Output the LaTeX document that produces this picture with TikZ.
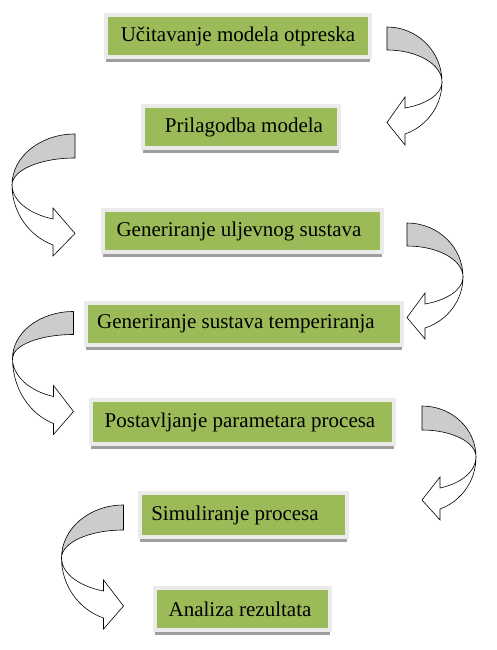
\documentclass[tikz,border=0pt]{standalone}
\usepackage{fontspec}
\setmainfont{Liberation Serif}
\usetikzlibrary{shadows}
\definecolor{boxgreen}{HTML}{9BBB59}
\definecolor{framegray}{HTML}{EBEBEB}
\definecolor{backgray}{HTML}{CCCCCC}
\tikzset{
  stepbox/.style={rectangle, fill=boxgreen, draw=framegray, line width=4pt,
    inner sep=0pt, font=\fontsize{21}{24}\selectfont, text=black,
    drop shadow={shadow xshift=0pt, shadow yshift=-5pt, fill=black!38, opacity=1}},
  ribbonback/.style={fill=backgray, draw=black, line width=0.6pt, line join=round},
  ribbonfront/.style={fill=white, draw=black, line width=0.6pt, line join=miter}
}
% #1 x0, #2 y0, #3 side, #4 R, #5 h, #6 t, #7 b, #8 notch1, #9 notch2
\newcommand{\ribbonarrow}[9]{%
  \begin{scope}[shift={(#1,#2)}, xscale=#3]
    \pgfmathsetmacro\rbth{acos(#7/#4)}
    \pgfmathsetmacro\rbsin{sin(\rbth)}
    \pgfmathsetmacro\rbhi{(#8-#5)/\rbsin}
    \pgfmathsetmacro\rbho{(#9-#5)/\rbsin}
    \pgfmathsetmacro\rbhin{#5-#6}
    \pgfmathsetmacro\rbtip{(#8+#9)/2+1.5}
    \pgfmathsetmacro\rbbu{#8-11}
    \pgfmathsetmacro\rbbl{#9+11}
    \draw[ribbonback] (0,0) arc[start angle=-90, end angle=0, x radius=#4, y radius=#5]
      arc[start angle=0, end angle=-90, x radius=#4, y radius=\rbhin] -- cycle;
    \draw[ribbonfront] (#4,#5) arc[start angle=0, end angle=\rbth, x radius=#4, y radius=\rbhi]
      -- (#7,\rbbu) -- (0,\rbtip) -- (#7,\rbbl) -- (#7,#9)
      arc[start angle=\rbth, end angle=0, x radius=#4, y radius=\rbho] -- cycle;
  \end{scope}}
\begin{document}
\begin{tikzpicture}[x=1pt, y=-1pt]
\useasboundingbox (0,0) rectangle (496,650);
\fill[white] (0,0) rectangle (496,650);

\node[stepbox, minimum width=264pt, minimum height=42pt] (b1) at (238,36) {Učitavanje modela otpreska};
\node[stepbox, minimum width=196pt, minimum height=42pt] (b2) at (241,127) {\kern6pt Prilagodba modela};
\node[stepbox, minimum width=279pt, minimum height=42pt] (b3) at (242.5,231) {Generiranje uljevnog sustava\kern7pt};
\node[stepbox, minimum width=316pt, minimum height=42pt] (b4) at (244,324) {Generiranje sustava temperiranja\kern16pt};
\node[stepbox, minimum width=303pt, minimum height=44pt] (b5) at (242.5,422) {Postavljanje parametara procesa\kern5pt};
\node[stepbox, minimum width=207pt, minimum height=44pt] (b6) at (243.5,515) {Simuliranje procesa\kern17pt};
\node[stepbox, minimum width=175pt, minimum height=42pt] (b7) at (242.5,609) {Analiza rezultata\kern5pt};

% right-side ribbons (tail top-left, going right and down, pointing left)
\ribbonarrow{387}{27}{1}{55}{55}{23}{18}{81}{107}
\ribbonarrow{407}{223}{1}{56}{54}{23}{18}{81}{105}
\ribbonarrow{422}{406}{1}{54}{51}{24}{18}{82}{103}
% left-side ribbons (mirrored)
\ribbonarrow{75}{134}{-1}{63}{51}{24}{22}{85}{111}
\ribbonarrow{73.5}{311.5}{-1}{61}{47}{23}{20}{85}{112}
\ribbonarrow{123.5}{505}{-1}{62}{53}{25}{20}{86}{113}
\end{tikzpicture}
\end{document}
